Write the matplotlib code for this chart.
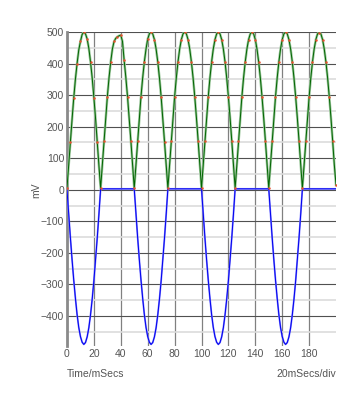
import matplotlib
matplotlib.use("Agg")
import matplotlib.pyplot as plt
from matplotlib.ticker import MultipleLocator

plt.rcParams['font.family'] = ['Liberation Sans', 'DejaVu Sans']

# time axis (ms), 1.25 ms steps
time_ms = [i * 1.25 for i in range(161)]

# full-wave rectified signal (mV)
green_mv = [
    5, 78, 150, 222, 290, 350, 400, 443, 470, 492, 500, 494, 478, 448, 405, 354, 292, 225, 150, 76,
    5, 78, 155, 227, 295, 355, 405, 446, 470, 480, 485, 488, 490, 470, 410, 356, 295, 227, 155, 78,
    5, 78, 155, 227, 295, 354, 405, 446, 478, 494, 500, 494, 476, 446, 405, 354, 294, 225, 152, 76,
    5, 78, 155, 227, 294, 354, 405, 446, 476, 494, 500, 494, 476, 446, 405, 354, 294, 227, 155, 78,
    5, 78, 155, 227, 294, 354, 405, 446, 476, 494, 500, 494, 476, 446, 405, 354, 294, 227, 155, 78,
    5, 78, 155, 227, 294, 354, 405, 446, 476, 494, 500, 494, 476, 446, 405, 354, 294, 227, 155, 78,
    5, 78, 155, 227, 294, 354, 405, 446, 476, 494, 500, 494, 476, 446, 405, 354, 294, 227, 155, 78,
    5, 78, 155, 227, 294, 354, 405, 446, 476, 494, 498, 494, 476, 446, 405, 354, 294, 227, 155, 78,
    15,
]

# negative half-wave signal (mV)
blue_mv = [
    0, -76, -150, -220, -285, -343, -395, -436, -465, -483, -490, -484, -466, -437, -396, -346, -288, -222, -152, -77,
    3, 3, 3, 3, 3, 3, 3, 3, 3, 3, 3, 3, 3, 3, 3, 3, 3, 3, 3, 3,
    3, -76, -150, -220, -285, -343, -395, -436, -465, -483, -490, -484, -466, -437, -396, -346, -288, -222, -152, -77,
    3, 3, 3, 3, 3, 3, 3, 3, 3, 3, 3, 3, 3, 3, 3, 3, 3, 3, 3, 3,
    3, -76, -150, -220, -285, -343, -395, -436, -465, -483, -490, -484, -466, -437, -396, -346, -288, -222, -152, -77,
    3, 3, 3, 3, 3, 3, 3, 3, 3, 3, 3, 3, 3, 3, 3, 3, 3, 3, 3, 3,
    3, -76, -150, -220, -285, -343, -395, -436, -465, -483, -490, -484, -466, -437, -396, -346, -288, -222, -152, -77,
    3, 3, 3, 3, 3, 3, 3, 3, 3, 3, 3, 3, 3, 3, 3, 3, 3, 3, 3, 3,
    3,
]

x_ticks = [0, 20, 40, 60, 80, 100, 120, 140, 160, 180]
y_ticks = [-400, -300, -200, -100, 0, 100, 200, 300, 400, 500]

fig = plt.figure(figsize=(3.59, 4.0), dpi=100)
ax = fig.add_axes([0.1866, 0.135, 0.7494, 0.785])

ax.set_xlim(0, 200)
ax.set_ylim(-495, 500)

# grid
ax.yaxis.set_minor_locator(MultipleLocator(50))
ax.set_yticks(y_ticks)
ax.set_xticks(x_ticks)
ax.grid(which='minor', axis='y', color='#dcdcdc', linewidth=1.2)
ax.grid(which='major', axis='y', color='#505050', linewidth=0.8)
ax.grid(which='major', axis='x', color='#808080', linewidth=0.9)
ax.set_axisbelow(True)

for s in ['top', 'right', 'bottom']:
    ax.spines[s].set_visible(False)
ax.spines['left'].set_color('#8a8a8a')
ax.spines['left'].set_linewidth(2)

ax.tick_params(axis='both', which='both', length=0, labelsize=7.5,
               labelcolor='#555555', pad=2)

# traces
ax.plot(time_ms, green_mv, color='#9cc79c', linewidth=1.8, zorder=3)
ax.plot(time_ms, green_mv, color='#006400', linewidth=0.7, zorder=4)
ax.plot(time_ms, green_mv, linestyle='none', marker='o', markersize=1.8,
        markevery=2, color='#e8502f', markeredgewidth=0, zorder=5)
ax.plot(time_ms, blue_mv, color='#8080ff', linewidth=1.3, zorder=3)
ax.plot(time_ms, blue_mv, color='#0000ee', linewidth=0.7, zorder=4)

fig.text(0.10, 0.525, 'mV', rotation=90, fontsize=7.5, color='#555555',
         ha='center', va='center')
fig.text(0.1866, 0.065, 'Time/mSecs', fontsize=7.5, color='#555555',
         ha='left', va='center')
fig.text(0.936, 0.065, '20mSecs/div', fontsize=7.5, color='#555555',
         ha='right', va='center')

fig.savefig('out.png', dpi=100)
